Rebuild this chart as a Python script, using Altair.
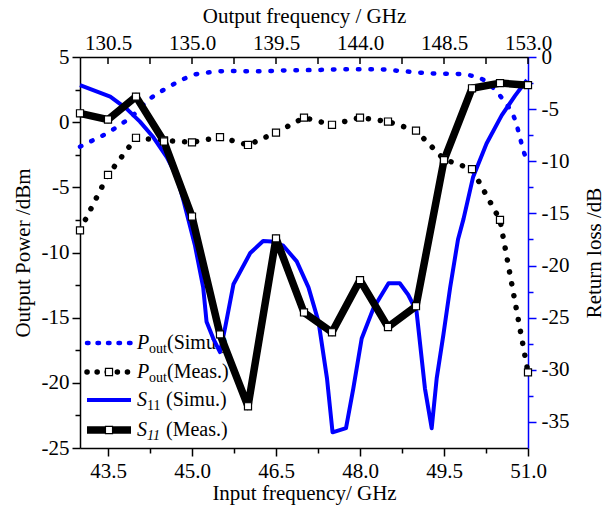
import altair as alt
import pandas as pd

FONT = "Liberation Serif"
BLUE = "#0000ff"

# ---------------- data ----------------
# measured points (input frequency, GHz)
meas_freq = [43.0, 43.5, 44.0, 44.5, 45.0, 45.5, 46.0, 46.5, 47.0, 47.5,
             48.0, 48.5, 49.0, 49.5, 50.0, 50.5, 51.0]
pout_meas = [-8.3, -4.05, -1.2, -1.4, -1.55, -1.15, -1.75, -0.8, 0.35, -0.2,
             0.35, 0.05, -0.65, -2.85, -3.6, -7.5, -19.2]
s11_meas = [-5.4, -6.0, -3.8, -8.1, -15.3, -26.6, -33.5, -17.4, -24.5, -26.4,
            -21.4, -25.9, -23.9, -9.9, -3.0, -2.5, -2.7]

# simulated output power
pout_sim_freq = [43.0, 43.24, 43.48, 43.68, 43.92, 44.22, 44.49, 44.76, 45.02,
                 45.26, 45.68, 46.2, 46.75, 47.2, 47.7, 48.27, 48.8, 49.25,
                 49.73, 49.99, 50.23, 50.5, 50.65, 50.79, 50.84, 50.93, 51.0]
pout_sim = [-1.88, -1.37, -0.86, -0.30, 0.42, 1.70, 2.47, 3.11, 3.62,
            3.80, 3.93, 3.9, 3.98, 4.0, 4.06, 4.06, 3.9, 3.75,
            3.7, 3.57, 3.18, 2.03, 1.18, -0.09, -0.9, -2.34, -3.1]

# simulated S11
s11_sim_freq = [43.0, 43.54, 43.83, 44.07, 44.31, 44.55, 44.73, 44.85, 45.05,
                45.2, 45.26, 45.38, 45.5, 45.59, 45.74, 46.04, 46.27, 46.42,
                46.63, 46.87, 47.08, 47.26, 47.41, 47.51, 47.75, 47.88, 48.03,
                48.24, 48.51, 48.71, 48.86, 49.01, 49.16, 49.28, 49.37, 49.49,
                49.61, 49.75, 49.85, 50.02, 50.26, 50.53, 50.77, 50.98]
s11_sim = [-2.7, -3.8, -4.95, -6.2, -7.7, -9.6, -11.5, -13.8, -18.0,
           -22.1, -25.4, -27.0, -28.3, -26.0, -21.8, -18.8, -17.65, -17.7,
           -18.1, -19.6, -22.1, -25.4, -30.8, -36.0, -35.6, -31.8, -27.0,
           -24.1, -21.7, -21.7, -22.8, -24.4, -31.8, -35.6, -30.8, -26.6,
           -22.1, -17.5, -15.5, -11.5, -8.3, -5.6, -3.7, -2.2]

x_ticks = [43.5, 44.25, 45.0, 45.75, 46.5, 47.25, 48.0, 48.75, 49.5, 50.25, 51.0]
x_major = [43.5, 45.0, 46.5, 48.0, 49.5, 51.0]
yl_ticks = [5, 2.5, 0, -2.5, -5, -7.5, -10, -12.5, -15, -17.5, -20, -22.5, -25]
yr_ticks = [0, -2.5, -5, -7.5, -10, -12.5, -15, -17.5, -20, -22.5, -25,
            -27.5, -30, -32.5, -35]

df_ps = pd.DataFrame({"f": pout_sim_freq, "v": pout_sim})
df_pm = pd.DataFrame({"f": meas_freq, "v": pout_meas})
df_ss = pd.DataFrame({"f": s11_sim_freq, "v": s11_sim})
df_sm = pd.DataFrame({"f": meas_freq, "v": s11_meas})
df_top = pd.DataFrame({"t": x_ticks})
one = pd.DataFrame({"a": [0]})

# ---------------- scales & axes ----------------
xs = alt.Scale(domain=[43, 51], nice=False, zero=False)
yls = alt.Scale(domain=[-25, 5], nice=False, zero=False)
yrs = alt.Scale(domain=[-37.5, 0], nice=False, zero=False)

common = dict(grid=False, labelFont=FONT, labelFontSize=21, labelColor="black",
              titleFont=FONT, titleFontSize=21, titleFontWeight="normal",
              titleColor="black", domainWidth=1.5, tickWidth=1.5,
              labelOverlap=False, labelFlush=False)

xmaj = "abs((datum.value-43.5)/1.5 - round((datum.value-43.5)/1.5)) < 0.01"
x_axis = alt.Axis(values=x_ticks, orient="bottom",
                  labelExpr=f"{xmaj} ? format(datum.value, '.1f') : ''",
                  tickSize={"condition": {"test": xmaj, "value": 8}, "value": 5},
                  title="Input frequency/ GHz", domainColor="black",
                  tickColor="black", labelPadding=4, titlePadding=1, **common)

ymaj = "datum.value % 5 == 0"
yl_axis = alt.Axis(values=yl_ticks, orient="left",
                   labelExpr=f"{ymaj} ? '' + datum.value : ''",
                   tickSize={"condition": {"test": ymaj, "value": 8}, "value": 5},
                   title="Output Power /dBm", domainColor="black",
                   tickColor="black", labelPadding=3, titlePadding=8, **common)

yr_axis = alt.Axis(values=yr_ticks, orient="right",
                   labelExpr=f"{ymaj} ? '' + datum.value : ''",
                   tickSize={"condition": {"test": ymaj, "value": 8}, "value": 5},
                   title="Return loss /dB", titleAngle=270, domainColor=BLUE,
                   tickColor=BLUE, labelPadding=5, titlePadding=36, **common)

top_axis = alt.Axis(values=x_major, orient="top", ticks=False,
                    labelExpr="format(datum.value*3, '.1f')",
                    title="Output frequency / GHz", domainColor="black",
                    labelPadding=4, titlePadding=6, **common)

X = lambda ax: alt.X("f:Q", scale=xs, axis=ax)
YL = lambda ax: alt.Y("v:Q", scale=yls, axis=ax)
YR = lambda ax: alt.Y("v:Q", scale=yrs, axis=ax)

# ---------------- data layers ----------------
base_axes = alt.Chart(df_pm).mark_line(opacity=0).encode(x=X(x_axis), y=YL(yl_axis))
right_axis = alt.Chart(df_sm).mark_line(opacity=0).encode(x=X(None), y=YR(yr_axis))

top_ticks = alt.Chart(df_top).mark_rule(color="black", strokeWidth=1.5).encode(
    x=alt.X("t:Q", scale=xs, axis=top_axis), y=alt.value(0), y2=alt.value(7))

ps_line = alt.Chart(df_ps).mark_line(
    color=BLUE, strokeWidth=4.5, strokeDash=[1.5, 11], strokeCap="round",
    interpolate="monotone").encode(x=X(None), y=YL(None))

pm_line = alt.Chart(df_pm).mark_line(
    color="black", strokeWidth=5.5, strokeDash=[0.1, 12], strokeCap="round"
).encode(x=X(None), y=YL(None))
pm_pts = alt.Chart(df_pm).mark_square(
    size=50, fill="white", stroke="black", strokeWidth=1.2, opacity=1
).encode(x=X(None), y=YL(None))

ss_line = alt.Chart(df_ss).mark_line(
    color=BLUE, strokeWidth=4, strokeJoin="round").encode(x=X(None), y=YR(None))

sm_line = alt.Chart(df_sm).mark_line(
    color="black", strokeWidth=7.5, strokeJoin="round").encode(x=X(None), y=YR(None))
sm_pts = alt.Chart(df_sm).mark_square(
    size=50, fill="white", stroke="black", strokeWidth=1.2, opacity=1
).encode(x=X(None), y=YR(None))

# ---------------- legend ----------------
def sym_rule(y, **kw):
    return alt.Chart(one).mark_rule(**kw).encode(
        x=alt.value(7), x2=alt.value(51), y=alt.value(y))

def sym_sq(y):
    return alt.Chart(one).mark_square(
        size=50, fill="white", stroke="black", strokeWidth=1.2, opacity=1
    ).encode(x=alt.value(29), y=alt.value(y))

def txt(x, y, s, size=20, italic=False):
    return alt.Chart(one).mark_text(
        font=FONT, fontSize=size, fontStyle="italic" if italic else "normal",
        align="left", baseline="middle", color="black"
    ).encode(x=alt.value(x), y=alt.value(y), text=alt.value(s))

r1, r2, r3, r4 = 286, 315, 343, 373
legend = [
    sym_rule(r1, color=BLUE, strokeWidth=4.5, strokeDash=[1.5, 9], strokeCap="round"),
    txt(57, r1, "P", italic=True), txt(69, r1 + 6, "out", 14), txt(87, r1, "(Simu.)"),
    sym_rule(r2, color="black", strokeWidth=5.5, strokeDash=[0.1, 10], strokeCap="round"),
    sym_sq(r2),
    txt(57, r2, "P", italic=True), txt(69, r2 + 6, "out", 14), txt(87, r2, "(Meas.)"),
    sym_rule(r3, color=BLUE, strokeWidth=4),
    txt(57, r3, "S", italic=True), txt(67, r3 + 6, "11", 14), txt(86, r3, "(Simu.)"),
    sym_rule(r4, color="black", strokeWidth=7.5),
    sym_sq(r4),
    txt(57, r4, "S", italic=True), txt(67, r4 + 6, "11", 14, italic=True), txt(86, r4, "(Meas.)"),
]

chart = alt.layer(
    base_axes, right_axis, top_ticks, *legend,
    ps_line, pm_line, ss_line, sm_line, pm_pts, sm_pts
).resolve_scale(
    x="independent", y="independent"
).resolve_axis(
    x="independent", y="independent"
).properties(
    width=448, height=391,
    autosize=alt.AutoSizeParams(type="none"),
    padding={"left": 80, "top": 57, "right": 80, "bottom": 60},
    background="white",
).configure_view(stroke=None)

chart.save("out.html", embed_options={"renderer": "svg", "actions": False})
